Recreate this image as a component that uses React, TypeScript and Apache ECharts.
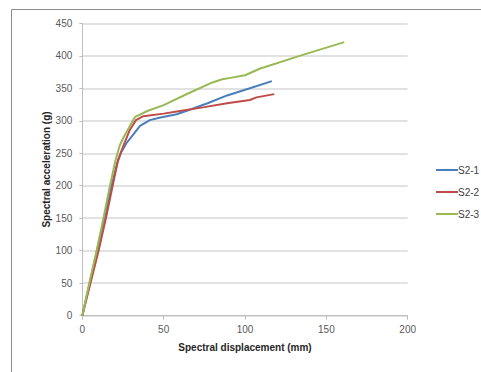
import React, { useEffect, useRef } from "react";
import * as echarts from "echarts";

const seriesNames = ["S2-1", "S2-2", "S2-3"];
const seriesColors = ["#4A7EBB", "#BE4B48", "#98B954"];

const s21: [number, number][] = [
  [0, 0], [4.5, 50], [9, 100], [13.5, 150], [18, 200], [21.5, 235], [24, 252], [27, 265],
  [31, 278], [35.5, 292], [41.5, 301], [48, 305], [58, 310], [66, 317], [77, 327],
  [89, 339], [103, 350], [116.5, 361],
];
const s22: [number, number][] = [
  [0, 0], [5, 50], [10, 100], [14.5, 150], [19, 204], [22, 240], [25, 260], [29, 285],
  [33, 301], [37.5, 307], [50, 311], [60, 315], [75, 321], [89, 327], [103, 332],
  [107, 336], [118, 341],
];
const s23: [number, number][] = [
  [0, 0], [4.3, 50], [8.8, 100], [13, 150], [17, 200], [20.5, 240], [23, 262], [25.5, 275],
  [29, 291], [32.5, 306], [40, 315], [50, 324], [65, 342], [80, 359], [86, 364], [91, 366],
  [100, 370], [109, 380], [135, 401], [161, 421],
];

const xTitle = "Spectral displacement (mm)";
const yTitle = "Spectral acceleration (g)";

const FONT = "'Liberation Sans', Arial, sans-serif";

export default function App() {
  const ref = useRef<HTMLDivElement>(null);
  useEffect(() => {
    if (!ref.current) return;
    const chart = echarts.init(ref.current, undefined, { renderer: "svg" });
    const data = [s21, s22, s23];
    chart.setOption({
      animation: false,
      backgroundColor: "#ffffff",
      textStyle: { fontFamily: FONT },
      graphic: [
        {
          type: "rect",
          shape: { x: 11.5, y: 9.5, width: 480, height: 380 },
          style: { fill: "none", stroke: "#8c8c8c", lineWidth: 1 },
          silent: true,
        },
      ],
      grid: { left: 82.3, right: 73.3, top: 23.3, bottom: 56.3 },
      legend: {
        orient: "vertical",
        left: 431,
        top: 160,
        itemWidth: 22,
        itemHeight: 14,
        itemGap: 12,
        icon: "path://M0,6 L22,6 L22,8 L0,8 Z",
        textStyle: { fontFamily: FONT, fontSize: 10, color: "#404040", padding: [0, 0, 0, -5] },
        data: seriesNames,
      },
      xAxis: {
        type: "value",
        min: 0,
        max: 200,
        interval: 50,
        name: xTitle,
        nameLocation: "middle",
        nameGap: 27,
        nameMoveOverlap: false,
        nameTextStyle: { fontFamily: FONT, fontSize: 10, fontWeight: "bold", color: "#262626" },
        axisLine: { show: true, lineStyle: { color: "#bfbfbf", width: 1 } },
        axisTick: { show: true, length: 4, lineStyle: { color: "#bfbfbf" } },
        axisLabel: { fontFamily: FONT, fontSize: 10, color: "#595959", margin: 9 },
        splitLine: { show: false },
      },
      yAxis: {
        type: "value",
        min: 0,
        max: 450,
        interval: 50,
        name: yTitle,
        nameLocation: "middle",
        nameGap: 31,
        nameMoveOverlap: false,
        nameRotate: 90,
        nameTextStyle: { fontFamily: FONT, fontSize: 10, fontWeight: "bold", color: "#262626" },
        axisLine: { show: true, lineStyle: { color: "#bfbfbf", width: 1 } },
        axisTick: { show: true, length: 3, lineStyle: { color: "#bfbfbf" } },
        axisLabel: { fontFamily: FONT, fontSize: 10, color: "#595959", margin: 10 },
        splitLine: { show: true, lineStyle: { color: "#d9d9d9", width: 1.5 } },
      },
      series: seriesNames.map((name, i) => ({
        name,
        type: "line",
        data: data[i],
        symbol: "none",
        smooth: false,
        lineStyle: { color: seriesColors[i], width: 2 },
        itemStyle: { color: seriesColors[i] },
      })),
    });
    return () => chart.dispose();
  }, []);
  return (
    <div
      ref={ref}
      style={{ position: "fixed", left: 0, top: 0, width: 481, height: 372, background: "#fff" }}
    />
  );
}
